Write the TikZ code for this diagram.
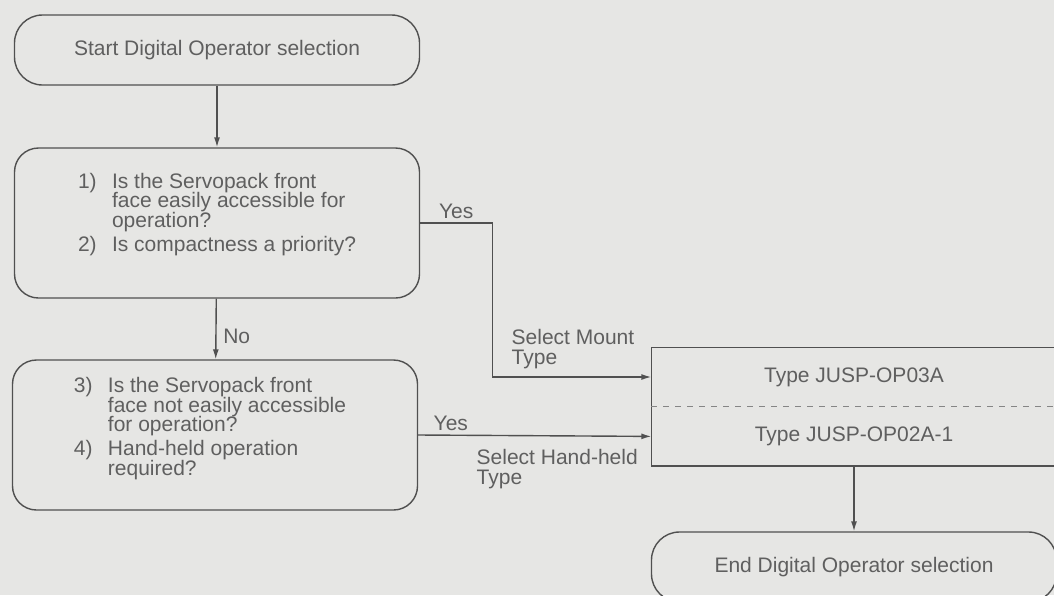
\documentclass[tikz,border=0pt]{standalone}
\usepackage{fontspec}
\setmainfont{Liberation Sans}
\usepackage{tikz}
\usetikzlibrary{arrows.meta, positioning}
\usepackage{xcolor}
\definecolor{paper}{RGB}{230, 230, 228}
\definecolor{ink}{RGB}{80, 80, 80}
\definecolor{textgray}{RGB}{95, 95, 95}

\begin{document}
\begin{tikzpicture}[x=0.5pt, y=-0.5pt, line width=0.7pt, draw=ink,
    font=\fontsize{10.5}{9.6}\selectfont, text=textgray,
    terminal/.style={draw=ink, rectangle, rounded corners=14pt, minimum width=202.5pt, minimum height=35pt, inner sep=0pt},
    question/.style={draw=ink, rectangle, rounded corners=12pt, minimum width=202.5pt, minimum height=75pt, inner sep=0pt, align=left,
        execute at begin node=\renewcommand{\arraystretch}{0.8}},
    typebox/.style={rectangle, minimum width=202pt, minimum height=29pt, inner sep=0pt},
    lbl/.style={inner sep=0pt, align=left},
    flow/.style={draw=ink, -{Latex[length=5pt, width=3pt]}}]
    \fill[paper] (0,0) rectangle (1054,595);
    \useasboundingbox (0,0) rectangle (1054,595);

    \node[terminal] (start) at (217,50) {Start Digital Operator selection};
    \node[question] (q1) at (217,223) {\begin{tabular}{@{}p{17pt}@{}l@{}}
        1) & Is the Servopack front\\
           & face easily accessible for\\
           & operation?\\[2pt]
        2) & Is compactness a priority?\\[8.4pt]
        \end{tabular}};
    \node[question] (q2) at (215,435) {\begin{tabular}{@{}p{17pt}@{}l@{\hspace{5pt}}}
        3) & Is the Servopack front\\
           & face not easily accessible\\
           & for operation?\\[2pt]
        4) & Hand-held operation\\
           & required?\\[6.4pt]
        \end{tabular}};

    \node[typebox] (op03) at (854,377) {Type JUSP-OP03A};
    \node[typebox, below=0pt of op03] (op02) {Type JUSP-OP02A-1};
    \draw[ink] (op03.north west) rectangle (op02.south east);
    \draw[ink!70, dash pattern=on 3pt off 3pt] (op03.south west) -- (op03.south east);

    \node[terminal] (finish) at (854,567) {End Digital Operator selection};

    \node[lbl, anchor=north west] (mount) at (511,329) {Select Mount\\Type};
    \node[lbl, anchor=north west] (handheld) at (476,449) {Select Hand-held\\Type};

    \draw[flow] (start) -- (q1);
    \draw[flow] (q1) -- node[right, pos=0.62] {No} (q2);
    \draw[flow] (q1.east) -- node[above, inner sep=2pt] {Yes} ++(72,0) |- (op03.west);
    \draw[flow] (q2.east) -- node[above, pos=0.14, inner sep=2pt] {Yes} (op02.west);
    \draw[flow] (op02) -- (finish);
\end{tikzpicture}
\end{document}
